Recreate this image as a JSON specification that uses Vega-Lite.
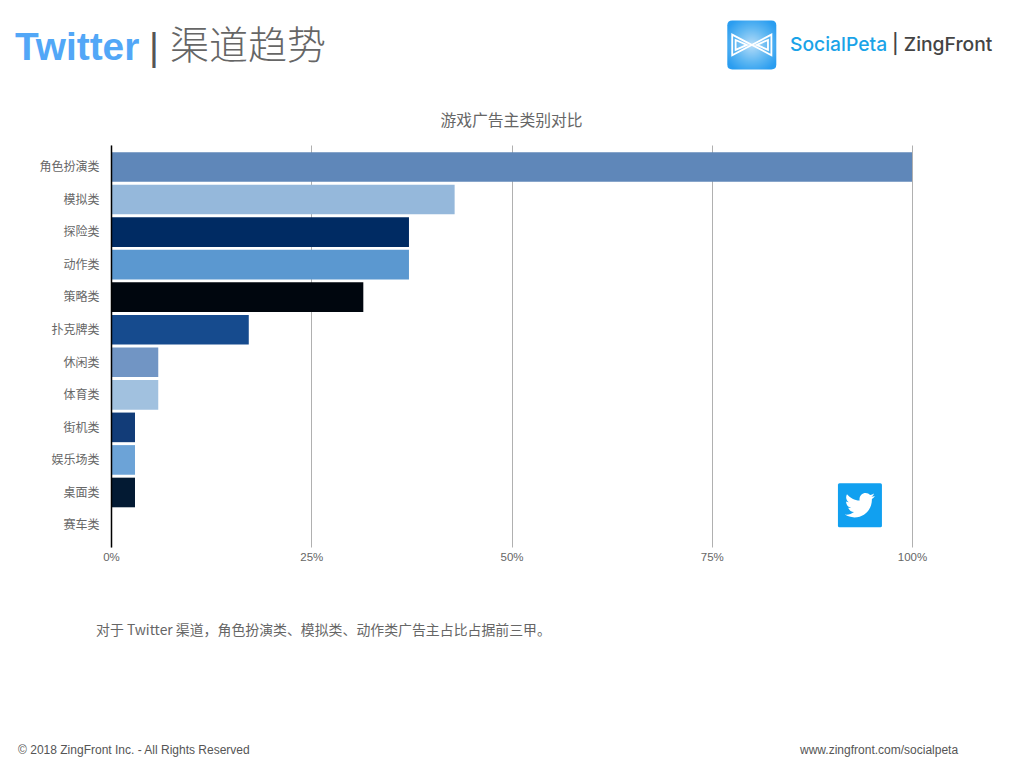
{
"$schema":"https://vega.github.io/schema/vega-lite/v6.json",
"width":801,"height":402,
"autosize":{"type":"none"},
"padding":{"left":111,"top":145,"right":112,"bottom":221},
"background":"white",
"config":{"view":{"stroke":null},"font":"Liberation Sans"},
"layer":[
{"data":{"values":[
{"cat":"角色扮演类","share":100,"color":"#5f87b9"},
{"cat":"模拟类","share":42.9,"color":"#95b8db"},
{"cat":"探险类","share":37.2,"color":"#002b63"},
{"cat":"动作类","share":37.2,"color":"#5b98d0"},
{"cat":"策略类","share":31.5,"color":"#00060e"},
{"cat":"扑克牌类","share":17.2,"color":"#164b8e"},
{"cat":"休闲类","share":5.9,"color":"#7195c4"},
{"cat":"体育类","share":5.9,"color":"#a1c1df"},
{"cat":"街机类","share":3,"color":"#123c78"},
{"cat":"娱乐场类","share":3,"color":"#6ca3d7"},
{"cat":"桌面类","share":3,"color":"#031a33"},
{"cat":"赛车类","share":0,"color":"#000000"}
]},
"mark":{"type":"bar"},
"encoding":{
"y":{"field":"cat","type":"nominal","sort":null,"title":null,
"scale":{"paddingInner":0.09,"paddingOuter":0.22},
"axis":{"ticks":false,"domain":true,"domainColor":"#000000","domainWidth":1.5,"labelFont":"Noto Sans CJK SC","labelFontSize":12,"labelColor":"#666666","labelPadding":12,"labelOffset":0.3,"zindex":1}},
"x":{"field":"share","type":"quantitative","title":null,
"scale":{"domain":[0,100]},
"axis":{"values":[0,25,50,75,100],"format":"d","labelExpr":"datum.label + '%'","ticks":false,"domain":false,"grid":true,"gridColor":"#b0b0b0","gridWidth":1,"labelFont":"Liberation Sans","labelFontSize":11.5,"labelColor":"#666666","labelPadding":4,"labelFlush":false,"labelOverlap":false,"zindex":0}},
"color":{"field":"color","type":"nominal","scale":null,"legend":null}
}},
{"data":{"values":[{"t":"游戏广告主类别对比","px":50,"py":-6.0}]},
"mark":{"type":"text","baseline":"middle","align":"center","font":"Noto Sans CJK SC","fontSize":15.8,"color":"#666666"},
"encoding":{"x":{"field":"px","type":"quantitative"},"y":{"field":"py","type":"quantitative","scale":{"domain":[0,100],"reverse":true},"axis":null},"text":{"field":"t"}}},
{"data":{"values":[{"t":"Twitter","px":-11.99,"py":-24.2}]},
"mark":{"type":"text","baseline":"middle","align":"left","font":"Liberation Sans","fontWeight":"bold","fontSize":38.8,"color":"#52a7f7"},
"encoding":{"x":{"field":"px","type":"quantitative"},"y":{"field":"py","type":"quantitative","scale":{"domain":[0,100],"reverse":true},"axis":null},"text":{"field":"t"}}},
{"data":{"values":[{"t":"|","px":5.37,"py":-24.0}]},
"mark":{"type":"text","baseline":"middle","align":"center","font":"Liberation Sans","fontSize":38,"color":"#555555"},
"encoding":{"x":{"field":"px","type":"quantitative"},"y":{"field":"py","type":"quantitative","scale":{"domain":[0,100],"reverse":true},"axis":null},"text":{"field":"t"}}},
{"data":{"values":[{"t":"渠道趋势","px":7.37,"py":-24.5}]},
"mark":{"type":"text","baseline":"middle","align":"left","font":"Noto Sans CJK SC","fontWeight":300,"fontSize":39,"color":"#666666"},
"encoding":{"x":{"field":"px","type":"quantitative"},"y":{"field":"py","type":"quantitative","scale":{"domain":[0,100],"reverse":true},"axis":null},"text":{"field":"t"}}},
{"data":{"values":[{"t":"SocialPeta","px":84.77,"py":-25}]},
"mark":{"type":"text","baseline":"middle","align":"left","font":"Inter","fontWeight":500,"fontSize":19.3,"color":"#1aa3e8"},
"encoding":{"x":{"field":"px","type":"quantitative"},"y":{"field":"py","type":"quantitative","scale":{"domain":[0,100],"reverse":true},"axis":null},"text":{"field":"t"}}},
{"data":{"values":[{"t":"| ZingFront","px":97.5,"py":-25}]},
"mark":{"type":"text","baseline":"middle","align":"left","font":"Inter","fontWeight":500,"fontSize":19.3,"color":"#444444"},
"encoding":{"x":{"field":"px","type":"quantitative"},"y":{"field":"py","type":"quantitative","scale":{"domain":[0,100],"reverse":true},"axis":null},"text":{"field":"t"}}},
{"data":{"values":[{"t":"对于  Twitter 渠道，角色扮演类、模拟类、动作类广告主占比占据前三甲。","px":-1.87,"py":120.8}]},
"mark":{"type":"text","baseline":"middle","align":"left","font":"Noto Sans CJK SC","fontSize":13.9,"color":"#666666"},
"encoding":{"x":{"field":"px","type":"quantitative"},"y":{"field":"py","type":"quantitative","scale":{"domain":[0,100],"reverse":true},"axis":null},"text":{"field":"t"}}},
{"data":{"values":[{"t":"© 2018 ZingFront Inc. - All Rights Reserved","px":-11.6,"py":150.45},{"t":"www.zingfront.com/socialpeta","px":86.02,"py":150.45}]},
"mark":{"type":"text","baseline":"middle","align":"left","font":"Liberation Sans","fontSize":12,"color":"#555555"},
"encoding":{"x":{"field":"px","type":"quantitative"},"y":{"field":"py","type":"quantitative","scale":{"domain":[0,100],"reverse":true},"axis":null},"text":{"field":"t"}}},
{"data":{"values":[{"px":93.5,"py":89.6}]},
"mark":{"type":"point","filled":true,"opacity":1,"fill":"#11a0f0","stroke":null,"size":1936,"shape":"M-0.93 -1 H0.93 Q1 -1 1 -0.93 V0.93 Q1 1 0.93 1 H-0.93 Q-1 1 -1 0.93 V-0.93 Q-1 -1 -0.93 -1 Z"},
"encoding":{"x":{"field":"px","type":"quantitative"},"y":{"field":"py","type":"quantitative","scale":{"domain":[0,100],"reverse":true},"axis":null}}},
{"data":{"values":[{"px":93.5,"py":89.6}]},
"mark":{"type":"point","filled":true,"opacity":1,"fill":"#ffffff","stroke":null,"size":6.25,"shape":"M11.953 -7.43c-.885.389-1.83.654-2.825.775 1.014-.611 1.794-1.574 2.163-2.723-.951.555-2.005.959-3.127 1.184-.896-.959-2.173-1.559-3.591-1.559-2.717 0-4.92 2.203-4.92 4.917 0 .39.045.765.127 1.124C-4.31-3.905-7.933-5.87-10.36-8.838c-.427.722-.666 1.561-.666 2.475 0 1.71.87 3.213 2.188 4.096-.807-.026-1.566-.248-2.228-.616v.06c0 2.385 1.693 4.374 3.946 4.827-.413.111-.849.171-1.296.171-.314 0-.615-.03-.916-.086.631 1.953 2.445 3.377 4.604 3.417-1.68 1.319-3.809 2.105-6.102 2.105-.39 0-.779-.023-1.17-.067 2.189 1.394 4.768 2.209 7.557 2.209 9.053 0 13.998-7.496 13.998-13.985 0-.21 0-.42-.015-.63.961-.689 1.8-1.56 2.46-2.548Z"},
"encoding":{"x":{"field":"px","type":"quantitative"},"y":{"field":"py","type":"quantitative","scale":{"domain":[0,100],"reverse":true},"axis":null}}},
{"data":{"values":[{"px":80,"py":-24.9}]},
"mark":{"type":"point","filled":true,"opacity":1,"stroke":null,"size":2401,"shape":"M-0.8 -1 H0.8 Q1 -1 1 -0.8 V0.8 Q1 1 0.8 1 H-0.8 Q-1 1 -1 0.8 V-0.8 Q-1 -1 -0.8 -1 Z",
"fill":{"gradient":"radial","x1":0.5,"y1":0.5,"x2":0.5,"y2":0.5,"r1":0,"r2":0.6,"stops":[{"offset":0,"color":"#b5dcf8"},{"offset":0.6,"color":"#5cb6f2"},{"offset":1,"color":"#2a9df0"}]}},
"encoding":{"x":{"field":"px","type":"quantitative"},"y":{"field":"py","type":"quantitative","scale":{"domain":[0,100],"reverse":true},"axis":null}}},
{"data":{"values":[{"px":80,"py":-24.9}]},
"mark":{"type":"point","filled":false,"opacity":1,"stroke":"#ffffff","strokeWidth":1.8,"size":2401,"shape":"M-0.8 -0.42 L0.8 0.42 V-0.42 L-0.8 0.42 Z M-0.66 -0.2 L-0.2 0 L-0.66 0.2 Z M0.66 -0.2 L0.2 0 L0.66 0.2 Z"},
"encoding":{"x":{"field":"px","type":"quantitative"},"y":{"field":"py","type":"quantitative","scale":{"domain":[0,100],"reverse":true},"axis":null}}}
],
"resolve":{"scale":{"y":"independent"},"axis":{"y":"independent"}}
}
